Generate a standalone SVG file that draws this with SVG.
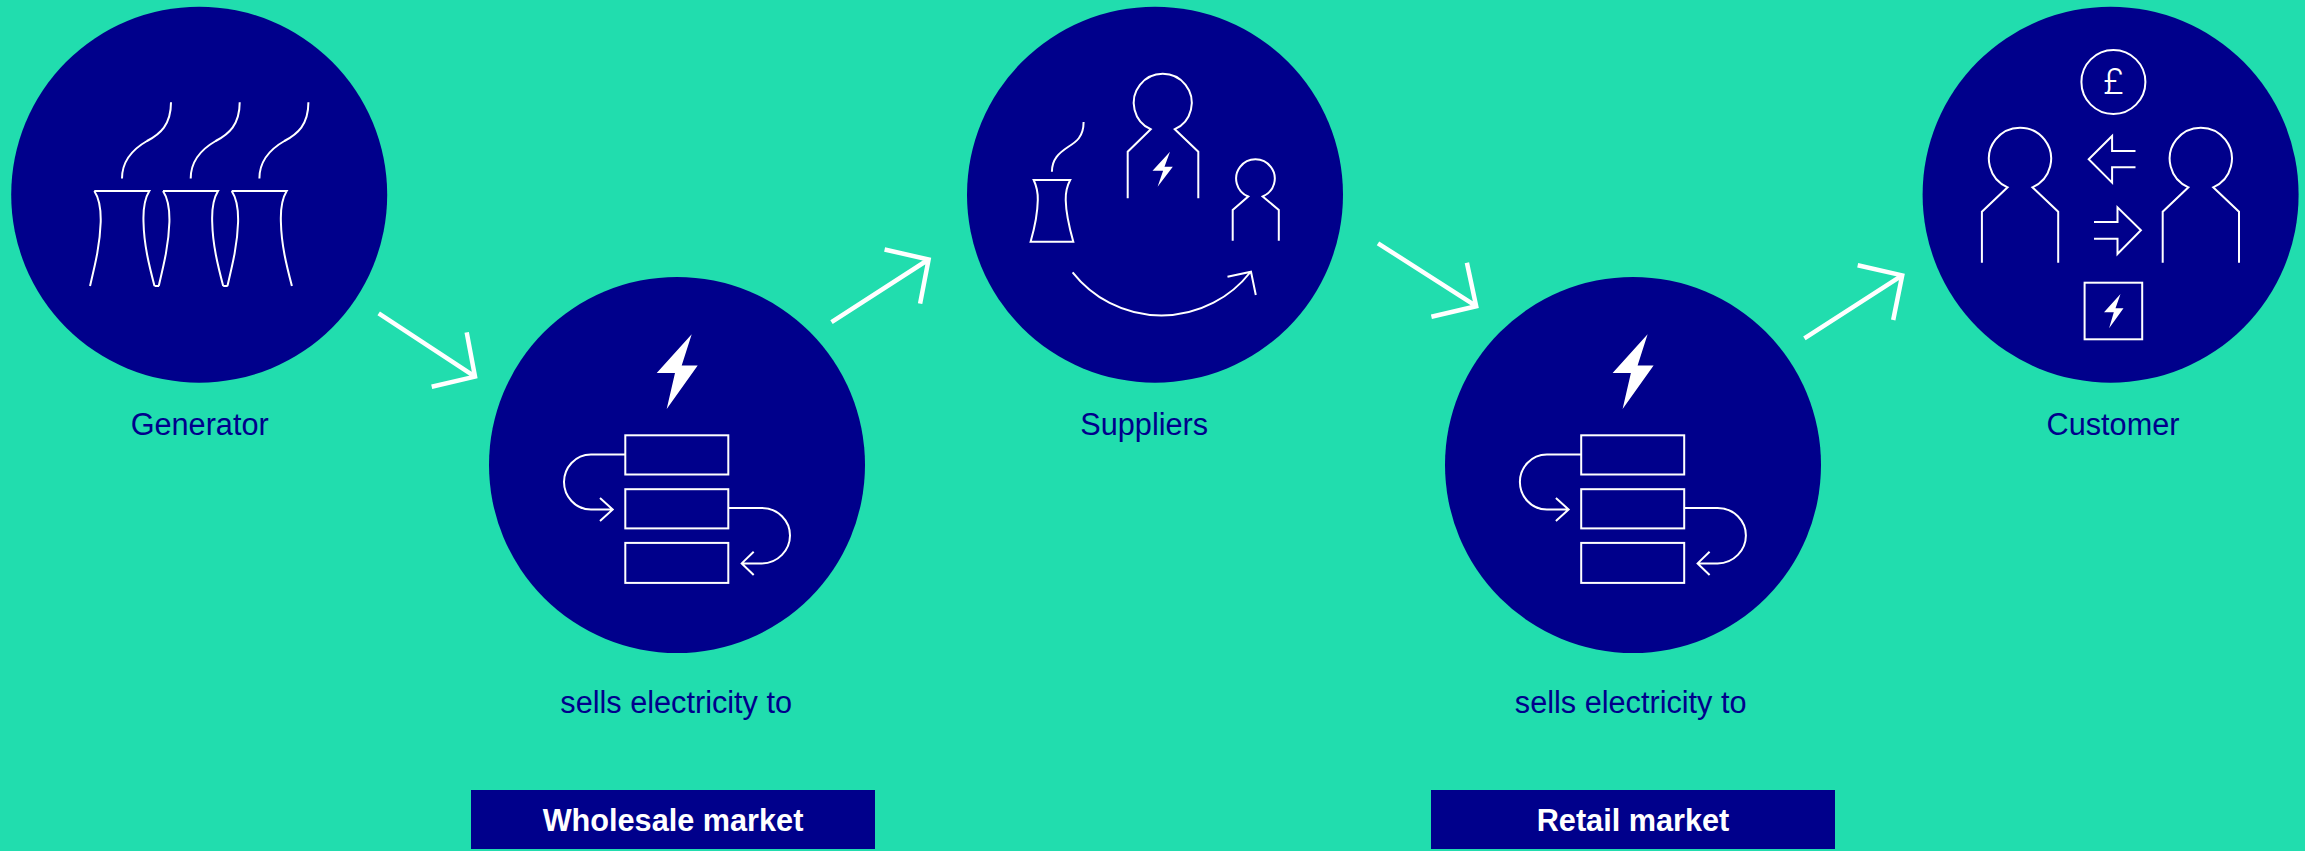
<svg xmlns="http://www.w3.org/2000/svg" xmlns:xlink="http://www.w3.org/1999/xlink" width="2305" height="851" viewBox="0 0 2305 851">
<style>
.disc,.band{fill:#00008b}
.ln{fill:none;stroke:#fff;stroke-width:2}
.solid{fill:#fff;stroke:none}
.arrow{fill:none;stroke:#fff;stroke-width:4.5}
text{font-family:"Liberation Sans",Arial,sans-serif;font-size:30.67px;text-anchor:middle}
.lbl{fill:#00008b}
.mk{fill:#fff;font-weight:700}
</style>
<defs>
<g id="tower"><path class="ln" d="M94.3 191H149.3C145 198 143 208 143.5 222C144 245 149 265 154.5 286"/><path class="ln" d="M94.3 191C99 198 101 208 100.7 222C100 245 95 265 90 286"/><path class="ln" d="M171 102.3C171 125 160 134 147 141C133 149 122 160 122 178.5"/></g>
<g id="market">
<polygon class="solid" points="691.7,334.3 656.7,373 675,373 666.7,408.9 697.7,365.5 681.7,365.5"/>
<rect class="ln" x="625.3" y="435.3" width="103" height="39.2"/>
<rect class="ln" x="625.3" y="489.2" width="103" height="39.2"/>
<rect class="ln" x="625.3" y="542.9" width="103" height="40"/>
<path class="ln" d="M625 454.5H591C575 454.5 564 468 564 482C564 496 575 509.5 591 509.5H612M600 498L612.7 509.5L600 521"/>
<path class="ln" d="M728.3 508H761.7C778 508 790 521 790 535.5C790 550 778 563.4 761.7 563.4H742M753.7 551.7L741.7 563.4L753.7 575"/>
</g>
<g id="person"><path class="ln" d="M1981.9 262.7V211.7L2007.6 187.3A31.1 31.1 0 1 1 2032.4 187.3L2058.2 211.7V262.7"/></g>
</defs>
<rect width="2305" height="851" fill="#21ddae"/>
<g id="connectors">
<path class="arrow" d="M378.7 313.3L475 376.6M466.7 332.3L475 376.6L431.7 386.7"/>
<path class="arrow" d="M831.5 322.2L928.6 259.5M884.6 249.5L928.6 259.5L920.1 303.7"/>
<path class="arrow" d="M1378 243.3L1476.2 306.2M1466.9 262.700L1476.2 306.2L1431.4 316.7"/>
<path class="arrow" d="M1804.4 338.3L1902.2 275.4M1857.7 265.3L1902.2 275.4L1893.2 320"/>
</g>
<g id="generator">
<circle class="disc" cx="199.2" cy="194.7" r="188"/>
<use xlink:href="#tower" href="#tower"/>
<use xlink:href="#tower" href="#tower" x="68.7"/>
<use xlink:href="#tower" href="#tower" x="137.4"/>
<path class="ln" d="M154.5 286H159M223.2 286H227.7"/>
<text class="lbl" x="199.7" y="434.5">Generator</text>
</g>
<g id="wholesale">
<circle class="disc" cx="677" cy="465" r="188"/>
<use xlink:href="#market" href="#market"/>
<text class="lbl" x="676.2" y="712.7">sells electricity to</text>
<rect class="band" x="471" y="790" width="404" height="59"/>
<text class="mk" x="673" y="831">Wholesale market</text>
</g>
<g id="suppliers">
<circle class="disc" cx="1155" cy="194.7" r="188"/>
<path class="ln" d="M1033.7 180H1070.2C1067 186 1065.5 192 1065.7 200C1066 215 1070 230 1073.3 241.7H1030.6C1034 230 1037.5 215 1037.8 200C1038 192 1036.5 186 1033.7 180Z"/>
<path class="ln" d="M1083.6 122C1083.6 137 1076 142 1068 147C1059 153 1052 159 1051.9 171.7"/>
<path class="ln" d="M1127.7 198.3V151.7L1150.7 129.2A29 29 0 1 1 1174.8 129.2L1198.3 151.7V198.3"/>
<polygon class="solid" points="1170,151.7 1152.5,170.7 1163.1,170.7 1157.6,186.7 1172.8,166.7 1164.5,166.700"/>
<path class="ln" d="M1232.7 240.7V210L1248.2 196.5A19.3 19.3 0 1 1 1262.7 196.5L1278.8 210V240.7"/>
<path class="ln" d="M1072.6 272.3A113 113 0 0 0 1250.5 272M1227.5 276.7L1251 271.7L1255.8 295"/>
<text class="lbl" x="1144.2" y="434.5">Suppliers</text>
</g>
<g id="retail">
<circle class="disc" cx="1633" cy="465" r="188"/>
<use xlink:href="#market" href="#market" x="955.9"/>
<text class="lbl" x="1630.7" y="712.7">sells electricity to</text>
<rect class="band" x="1431" y="790" width="404" height="59"/>
<text class="mk" x="1633" y="831">Retail market</text>
</g>
<g id="customer">
<circle class="disc" cx="2110.6" cy="194.7" r="188"/>
<circle class="ln" cx="2113.4" cy="82" r="32"/>
<text x="2113.4" y="94" style="fill:#fff;font-family:Roboto,'Liberation Sans',sans-serif;font-weight:300;font-size:36px">£</text>
<use xlink:href="#person" href="#person"/>
<use xlink:href="#person" href="#person" x="180.8"/>
<path class="ln" d="M2135.5 151H2112.1V136L2088.7 159.3L2112.1 182.7V167.3H2135.5"/>
<path class="ln" d="M2094 222H2117.5V207.3L2140.9 230.3L2117.5 254V238.7H2094"/>
<rect class="ln" x="2084.6" y="282.7" width="57.6" height="56.6"/>
<polygon class="solid" points="2120.5,294 2104,312.3 2113.8,312.3 2109.1,328.3 2123.5,308.3 2115.5,308.3"/>
<text class="lbl" x="2113" y="434.5">Customer</text>
</g>
</svg>
